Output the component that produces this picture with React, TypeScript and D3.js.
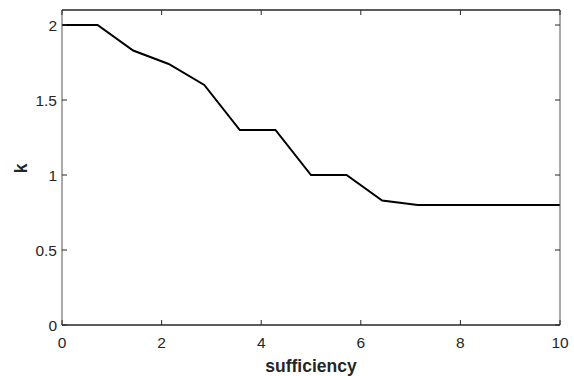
import React, { useEffect, useRef } from 'react'
import * as d3 from 'd3'

const sufficiency = [0, 0.714, 1.429, 2.143, 2.857, 3.571, 4.286, 5, 5.714, 6.429, 7.143, 7.857, 8.571, 9.286, 10]
const kValues = [2, 2, 1.83, 1.74, 1.6, 1.3, 1.3, 1.0, 1.0, 0.83, 0.8, 0.8, 0.8, 0.8, 0.8]
const xTicks = [0, 2, 4, 6, 8, 10]
const yTicks = [0, 0.5, 1, 1.5, 2]

const W = 574
const H = 376
const margin = { left: 62, right: 14, top: 10, bottom: 51 }

export default function App() {
  const ref = useRef<SVGSVGElement>(null)

  useEffect(() => {
    const svg = d3.select(ref.current)
    svg.selectAll('*').remove()

    const x = d3.scaleLinear().domain([0, 10]).range([margin.left, W - margin.right])
    const y = d3.scaleLinear().domain([0, 2.1]).range([H - margin.bottom, margin.top])
    const font = 'Liberation Sans, Arial, sans-serif'
    const axisColor = '#262626'

    // line
    const line = d3.line<number>()
      .x((d, i) => x(sufficiency[i]))
      .y(d => y(d))
    svg.append('path')
      .attr('d', line(kValues))
      .attr('fill', 'none')
      .attr('stroke', '#000')
      .attr('stroke-width', 2)
      .attr('stroke-linejoin', 'miter')

    // box
    const x0 = x(0), x1 = x(10), y0 = y(0), y1 = y(2.1)
    svg.append('line').attr('x1', x0).attr('x2', x1).attr('y1', y0).attr('y2', y0)
      .attr('stroke', axisColor).attr('stroke-width', 1.5)
    svg.append('line').attr('x1', x0).attr('x2', x1).attr('y1', y1).attr('y2', y1)
      .attr('stroke', axisColor).attr('stroke-width', 1.5)
    svg.append('line').attr('x1', x0).attr('x2', x0).attr('y1', y0).attr('y2', y1)
      .attr('stroke', '#555').attr('stroke-width', 1)
    svg.append('line').attr('x1', x1).attr('x2', x1).attr('y1', y0).attr('y2', y1)
      .attr('stroke', '#555').attr('stroke-width', 1)

    // x ticks
    const tickLen = 5
    xTicks.forEach(t => {
      svg.append('line').attr('x1', x(t)).attr('x2', x(t)).attr('y1', y0).attr('y2', y0 - tickLen)
        .attr('stroke', axisColor)
      svg.append('line').attr('x1', x(t)).attr('x2', x(t)).attr('y1', y1).attr('y2', y1 + tickLen)
        .attr('stroke', axisColor)
      svg.append('text')
        .attr('x', x(t)).attr('y', y0 + 23)
        .attr('text-anchor', 'middle')
        .attr('font-family', font).attr('font-size', 15.5)
        .attr('fill', axisColor)
        .text(t)
    })

    // y ticks
    yTicks.forEach(t => {
      svg.append('line').attr('x1', x0).attr('x2', x0 + tickLen).attr('y1', y(t)).attr('y2', y(t))
        .attr('stroke', axisColor)
      svg.append('line').attr('x1', x1).attr('x2', x1 - tickLen).attr('y1', y(t)).attr('y2', y(t))
        .attr('stroke', axisColor)
      svg.append('text')
        .attr('x', x0 - 5).attr('y', y(t) + 6)
        .attr('text-anchor', 'end')
        .attr('font-family', font).attr('font-size', 15.5)
        .attr('fill', axisColor)
        .text(t)
    })

    // axis labels
    svg.append('text')
      .attr('x', 311).attr('y', 372)
      .attr('text-anchor', 'middle')
      .attr('font-family', font).attr('font-size', 17.5).attr('font-weight', 'bold')
      .attr('fill', axisColor)
      .text('sufficiency')
    svg.append('text')
      .attr('transform', `translate(27,${(y0 + y1) / 2 + 1}) rotate(-90)`)
      .attr('text-anchor', 'middle')
      .attr('font-family', font).attr('font-size', 17.5).attr('font-weight', 'bold')
      .attr('fill', axisColor)
      .text('k')
  }, [])

  return (
    <svg ref={ref} width={W} height={H}
      style={{ position: 'absolute', left: 0, top: 0, background: '#fff' }} />
  )
}
